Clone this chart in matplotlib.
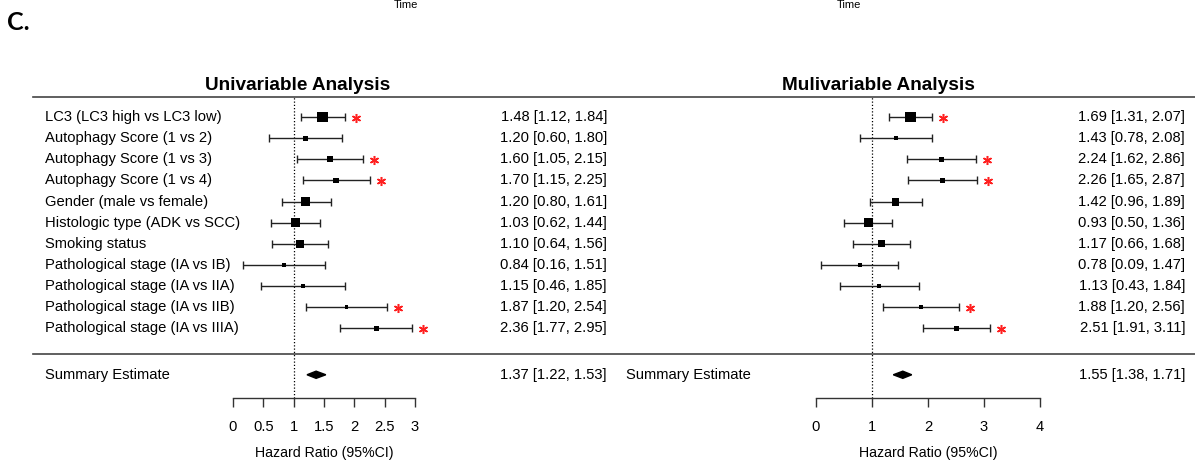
import matplotlib

matplotlib.use("Agg")

import matplotlib.pyplot as plt
import matplotlib.transforms as mtransforms
import numpy as np


W_PX, H_PX = 1195, 461

ROW_LABELS = [
    "LC3 (LC3 high vs LC3 low)",
    "Autophagy Score (1 vs 2)",
    "Autophagy Score (1 vs 3)",
    "Autophagy Score (1 vs 4)",
    "Gender (male vs female)",
    "Histologic type (ADK vs SCC)",
    "Smoking status",
    "Pathological stage (IA vs IB)",
    "Pathological stage (IA vs IIA)",
    "Pathological stage (IA vs IIB)",
    "Pathological stage (IA vs IIIA)",
]

UNI_HR = [1.48, 1.20, 1.60, 1.70, 1.20, 1.03, 1.10, 0.84, 1.15, 1.87, 2.36]
UNI_LO = [1.12, 0.60, 1.05, 1.15, 0.80, 0.62, 0.64, 0.16, 0.46, 1.20, 1.77]
UNI_HI = [1.84, 1.80, 2.15, 2.25, 1.61, 1.44, 1.56, 1.51, 1.85, 2.54, 2.95]
UNI_SUMMARY = (1.37, 1.22, 1.53)

MULTI_HR = [1.69, 1.43, 2.24, 2.26, 1.42, 0.93, 1.17, 0.78, 1.13, 1.88, 2.51]
MULTI_LO = [1.31, 0.78, 1.62, 1.65, 0.96, 0.50, 0.66, 0.09, 0.43, 1.20, 1.91]
MULTI_HI = [2.07, 2.08, 2.86, 2.87, 1.89, 1.36, 1.68, 1.47, 1.84, 2.56, 3.11]
MULTI_SUMMARY = (1.55, 1.38, 1.71)

UNI_TICKS = [0, 0.5, 1, 1.5, 2, 2.5, 3]
UNI_TICK_LABELS = ["0", "0.5", "1", "1.5", "2", "2.5", "3"]
MULTI_TICKS = [0, 1, 2, 3, 4]
MULTI_TICK_LABELS = ["0", "1", "2", "3", "4"]

FONT = "Liberation Sans"
TEXT_SIZE = 10.6
LINE_COLOR = "#444444"

# row layout (row units, top row = 0)
Y_TOP, Y_BOTTOM = -0.95, 13.3
Y_SEPARATOR = 11.2
Y_SUMMARY = 12.2


def fx(px: float) -> float:
    return px / W_PX


def fy(px: float) -> float:
    return 1 - px / H_PX


def box_sizes(lo, hi) -> np.ndarray:
    # metafor-style point sizes: inverse standard error rescaled to 0.5..1.5
    se = (np.asarray(hi) - np.asarray(lo)) / (2 * 1.96)
    wi = 1 / se
    return 0.5 + (wi - wi.min()) / (wi.max() - wi.min())


def draw_forest(fig, ax, hr, lo, hi, summary, ticks, tick_labels, ci_right_px):
    rows = np.arange(len(hr))
    hr = np.asarray(hr)
    lo = np.asarray(lo)
    hi = np.asarray(hi)

    ax.set_ylim(Y_BOTTOM, Y_TOP)
    ax.set_xlim(ticks[0], ticks[-1])

    ax.axvline(1, color="black", linestyle=(0, (1, 1.6)), linewidth=0.9, zorder=1)

    ax.errorbar(
        hr, rows, xerr=[hr - lo, hi - hr], fmt="none",
        ecolor="#222222", elinewidth=1.0, capsize=3.2, capthick=1.0, zorder=2,
    )
    side_px = box_sizes(lo, hi) * 7.2
    ax.scatter(hr, rows, s=(side_px * 0.72) ** 2, marker="s", color="black", zorder=3, linewidths=0)

    star_tf = mtransforms.offset_copy(ax.transData, fig=fig, x=11, y=-0.5, units="dots")
    significant = lo > 1
    ax.plot(hi[significant], rows[significant], linestyle="none", marker=(6, 2, 0),
            markersize=6.5, markeredgewidth=1.1, color="#ff2020", transform=star_tf, clip_on=False)

    est, s_lo, s_hi = summary
    ax.fill([s_lo, est, s_hi, est], [Y_SUMMARY, Y_SUMMARY - 0.17, Y_SUMMARY, Y_SUMMARY + 0.17],
            color="black", zorder=3)

    text_tf = mtransforms.blended_transform_factory(fig.transFigure, ax.transData)
    for row, (e, l, h) in enumerate(zip(hr, lo, hi)):
        ax.text(fx(ci_right_px), row, f"{e:.2f} [{l:.2f}, {h:.2f}]", transform=text_tf,
                ha="right", va="center", fontsize=TEXT_SIZE, family=FONT)
    ax.text(fx(ci_right_px), Y_SUMMARY, f"{est:.2f} [{s_lo:.2f}, {s_hi:.2f}]", transform=text_tf,
            ha="right", va="center", fontsize=TEXT_SIZE, family=FONT)

    for side in ("top", "left", "right"):
        ax.spines[side].set_visible(False)
    ax.spines["bottom"].set_bounds(ticks[0], ticks[-1])
    ax.spines["bottom"].set_color("#333333")
    ax.spines["bottom"].set_linewidth(1.0)
    ax.set_yticks([])
    ax.set_xticks(ticks)
    ax.set_xticklabels(tick_labels, fontsize=TEXT_SIZE, family=FONT)
    ax.tick_params(axis="x", direction="out", length=6.5, width=1.0, color="#333333", pad=9)
    ax.set_xlabel("Hazard Ratio (95%CI)", fontsize=TEXT_SIZE - 0.4, family=FONT, labelpad=9)
    ax.patch.set_visible(False)


fig = plt.figure(figsize=(W_PX / 100, H_PX / 100), dpi=100)

ax_uni = fig.add_axes([fx(233), fy(398), fx(415) - fx(233), fy(97) - fy(398)])
ax_multi = fig.add_axes([fx(816), fy(398), fx(1040) - fx(816), fy(97) - fy(398)])

draw_forest(fig, ax_uni, UNI_HR, UNI_LO, UNI_HI, UNI_SUMMARY, UNI_TICKS, UNI_TICK_LABELS, 607)
draw_forest(fig, ax_multi, MULTI_HR, MULTI_LO, MULTI_HI, MULTI_SUMMARY, MULTI_TICKS, MULTI_TICK_LABELS, 1185)

# row labels only on the left panel
label_tf = mtransforms.blended_transform_factory(fig.transFigure, ax_uni.transData)
for row, label in enumerate(ROW_LABELS):
    ax_uni.text(fx(45), row, label, transform=label_tf, ha="left", va="center",
                fontsize=TEXT_SIZE, family=FONT)
ax_uni.text(fx(45), Y_SUMMARY, "Summary Estimate", transform=label_tf, ha="left", va="center",
            fontsize=TEXT_SIZE, family=FONT)
ax_uni.text(fx(626), Y_SUMMARY, "Summary Estimate", transform=label_tf, ha="left", va="center",
            fontsize=TEXT_SIZE, family=FONT)

# full-width rules under the titles and above the summary rows
for y in (Y_TOP, Y_SEPARATOR):
    ax_uni.plot([fx(33), 1.0], [y, y], transform=label_tf, color=LINE_COLOR,
                linewidth=1.2, clip_on=False)

fig.text(fx(298), fy(85), "Univariable Analysis", ha="center", va="center",
         fontsize=13.7, fontweight="bold", family=FONT)
fig.text(fx(878), fy(85), "Mulivariable Analysis", ha="center", va="center",
         fontsize=13.7, fontweight="bold", family=FONT)

fig.text(fx(7), fy(22), "C.", ha="left", va="center", fontsize=18, fontweight="bold", family="Lato")

# axis titles of the panels above, at the very top edge
fig.text(fx(406), fy(0.5), "Time", ha="center", va="top", fontsize=8, family=FONT)
fig.text(fx(849), fy(0.5), "Time", ha="center", va="top", fontsize=8, family=FONT)

fig.savefig("out.png", dpi=100)
